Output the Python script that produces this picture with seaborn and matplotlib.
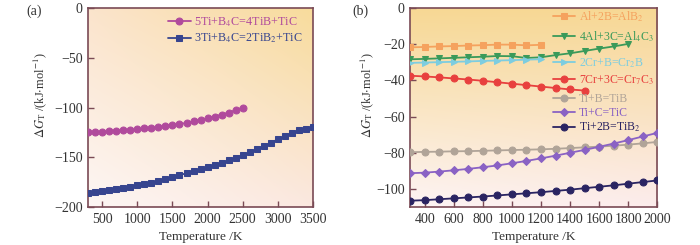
import numpy as np
import pandas as pd
import matplotlib
matplotlib.use("Agg")
import matplotlib.pyplot as plt
import seaborn as sns

# ---- panel (a) data ----
temp_a1 = list(range(300, 2600, 100))
g_a1 = [-125, -125, -124.5, -124, -123.5, -123, -122.5, -122, -121, -120.5,
        -119.5, -118.5, -117.5, -116.5, -115.5, -114, -112.5, -111, -109,
        -107, -105, -102.5, -100]
temp_a2 = list(range(300, 3600, 100))
g_a2 = [-186, -185, -184, -183, -182, -181, -179.5, -178, -177, -175.5,
        -174, -172, -170, -168, -166, -164, -162, -160, -158, -156, -153,
        -150.5, -148, -145, -142, -139, -135.5, -132, -129, -125.5, -123,
        -121.5, -120]
labels_a = ["5Ti+B$_4$C=4TiB+TiC", "3Ti+B$_4$C=2TiB$_2$+TiC"]

# ---- panel (b) data ----
temp_alb2 = list(range(300, 1300, 100))
g_alb2 = [-21.7, -21.5, -21.2, -21.0, -20.7, -20.5, -20.2, -20.2, -20.6, -20.3]
temp_al4c3 = list(range(300, 1900, 100))
g_al4c3 = [-28.3, -28.1, -27.8, -27.5, -27.2, -26.9, -26.5, -26.6, -27.6,
           -27.2, -26.0, -25.0, -23.7, -22.4, -21.2, -19.8]
temp_cr2b = list(range(300, 1300, 100))
g_cr2b = [-30.3, -30.1, -29.9, -29.7, -29.5, -29.2, -29.0, -28.8, -28.5, -28.3]
temp_cr7c3 = list(range(300, 1600, 100))
g_cr7c3 = [-37.4, -37.8, -38.3, -38.9, -39.5, -40.2, -41.0, -41.8, -42.6,
           -43.4, -44.2, -45.0, -45.6]
temp_ti = list(range(300, 2100, 100))
g_tib = [-79.7, -79.5, -79.4, -79.2, -79.1, -78.9, -78.7, -78.5, -78.3,
         -78.1, -77.8, -77.4, -77.0, -76.6, -76.1, -75.5, -74.8, -74.0]
g_tic = [-91.3, -91.0, -90.4, -89.7, -88.9, -88.0, -87.0, -85.8, -84.5,
         -83.1, -81.6, -80.0, -78.4, -76.7, -74.9, -73.0, -71.0, -69.0]
g_tib2 = [-106.5, -106.2, -105.7, -105.2, -104.7, -104.2, -103.6, -103.0,
          -102.4, -101.8, -101.1, -100.4, -99.6, -98.8, -98.0, -97.1, -96.2,
          -95.3]
labels_b = ["Al+2B=AlB$_2$", "4Al+3C=Al$_4$C$_3$", "2Cr+B=Cr$_2$B",
            "7Cr+3C=Cr$_7$C$_3$", "Ti+B=TiB", "Ti+C=TiC", "Ti+2B=TiB$_2$"]

sns.set_style("ticks")
plt.rcParams["font.family"] = ["Liberation Serif", "DejaVu Serif"]
plt.rcParams["mathtext.fontset"] = "stix"
plt.rcParams["axes.unicode_minus"] = True

spine_col = "#7a4a55"
text_col = "#333333"


def gradient_bg(ax, tl, tr, bl, br):
    c = [np.array(matplotlib.colors.to_rgb(x)) for x in (tl, tr, bl, br)]
    n = 100
    u = np.linspace(0, 1, n)
    v = np.linspace(0, 1, n)
    U, V = np.meshgrid(u, v)
    img = ((1 - U) * (1 - V))[..., None] * c[0] + (U * (1 - V))[..., None] * c[1] \
        + ((1 - U) * V)[..., None] * c[2] + (U * V)[..., None] * c[3]
    ax.imshow(img, extent=(0, 1, 0, 1), transform=ax.transAxes,
              aspect="auto", zorder=0, interpolation="bilinear")


def style_axes(ax, ylab_x):
    for s in ax.spines.values():
        s.set_color(spine_col)
        s.set_linewidth(1.2)
    ax.tick_params(direction="in", length=4, width=1, color=spine_col,
                   labelsize=10, labelcolor=text_col, pad=4)
    ax.set_xlabel("Temperature /K", fontsize=9.5, color=text_col)
    ax.set_ylabel(r"$\Delta G_{\rm T}$ /(kJ$\cdot$mol$^{-1}$)", fontsize=9,
                  color=text_col)
    ax.yaxis.set_label_coords(ylab_x, 0.56)


fig = plt.figure(figsize=(7, 2.45), dpi=100)
ax_a = fig.add_axes([0.126, 0.155, 0.321, 0.812])
ax_b = fig.add_axes([0.586, 0.155, 0.353, 0.812])

# panel (a)
gradient_bg(ax_a, "#fbe4cc", "#f8dc9c", "#fdf6f4", "#fbe8e0")
series_a = [(temp_a1, g_a1, "#b04a9c", "o", labels_a[0]),
            (temp_a2, g_a2, "#37458f", "s", labels_a[1])]
for t, g, c, m, lab in series_a:
    sns.lineplot(x=t, y=g, ax=ax_a, color=c, marker=m, markersize=5,
                 markeredgecolor=c, linewidth=1.3, label=lab, zorder=3)
ax_a.set_xlim(300, 3500)
ax_a.set_ylim(-200, 0)
ax_a.set_xticks([500, 1000, 1500, 2000, 2500, 3000, 3500])
ax_a.set_yticks([0, -50, -100, -150, -200])
style_axes(ax_a, -0.175)
leg = ax_a.legend(loc="upper right", bbox_to_anchor=(0.985, 1.0),
                  frameon=False, fontsize=8.7, handlelength=1.9,
                  handletextpad=0.25, labelspacing=0.25, borderaxespad=0.2)
for txt, (_, _, c, _, _) in zip(leg.get_texts(), series_a):
    txt.set_color(c)

# panel (b)
gradient_bg(ax_b, "#f7d894", "#f7d894", "#fdf4f4", "#fcecec")
series_b = [(temp_alb2, g_alb2, "#f5a25e", "s", labels_b[0]),
            (temp_al4c3, g_al4c3, "#3a9a5a", "v", labels_b[1]),
            (temp_cr2b, g_cr2b, "#7dcde0", ">", labels_b[2]),
            (temp_cr7c3, g_cr7c3, "#e8403e", "o", labels_b[3]),
            (temp_ti, g_tib, "#b0a498", "o", labels_b[4]),
            (temp_ti, g_tic, "#8a62c4", "D", labels_b[5]),
            (temp_ti, g_tib2, "#2a2462", "o", labels_b[6])]
for t, g, c, m, lab in series_b:
    ms = 4 if m == "D" else 5
    sns.lineplot(x=t, y=g, ax=ax_b, color=c, marker=m, markersize=ms,
                 markeredgecolor=c, linewidth=1.3, label=lab, zorder=3)
ax_b.set_xlim(300, 2000)
ax_b.set_ylim(-110, 0)
ax_b.set_xticks(list(range(400, 2001, 200)))
ax_b.set_yticks([0, -20, -40, -60, -80, -100])
style_axes(ax_b, -0.14)

# legend split in three blocks so the entries sit between the curves
handles, labels = ax_b.get_legend_handles_labels()
groups = [([0, 1], 1.0, 0.45), ([2, 3], 0.764, 0.3), ([4, 5, 6], 0.578, 0.15)]
legends = []
for idx, ytop, sp in groups:
    lg = ax_b.legend([handles[i] for i in idx], [labels[i] for i in idx],
                     loc="upper left", bbox_to_anchor=(0.572, ytop),
                     frameon=False, fontsize=8.5, handlelength=1.9,
                     handletextpad=0.3, labelspacing=sp, borderaxespad=0,
                     borderpad=0.1)
    for txt, i in zip(lg.get_texts(), idx):
        txt.set_color(series_b[i][2])
    legends.append(lg)
for lg in legends[:-1]:
    ax_b.add_artist(lg)

fig.text(0.038, 0.955, "(a)", fontsize=10, color=text_col, va="center")
fig.text(0.503, 0.955, "(b)", fontsize=10, color=text_col, va="center")

fig.savefig("out.png", dpi=100)
